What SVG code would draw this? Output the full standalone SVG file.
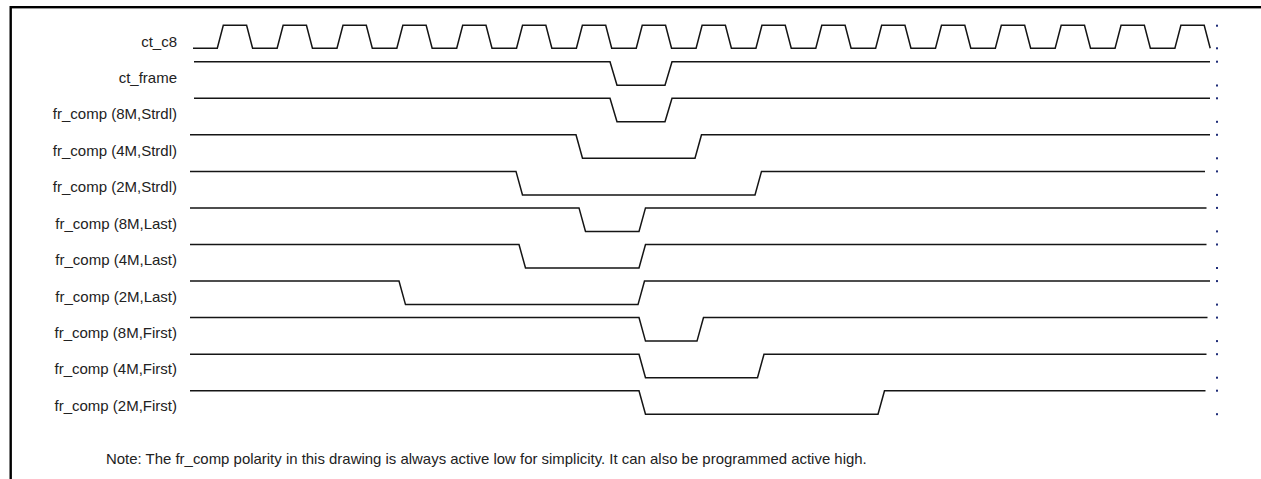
<svg xmlns="http://www.w3.org/2000/svg" width="1261" height="479" viewBox="0 0 1261 479">
<style>
.lbl{font-family:"Liberation Sans",Arial,sans-serif;font-size:15px;fill:#222;text-anchor:end}
.note{font-family:"Liberation Sans",Arial,sans-serif;font-size:14.95px;fill:#222}
.wave{fill:none;stroke:#151515;stroke-width:1.5;stroke-linejoin:miter}
.dot{fill:#1f2d78}
</style>
<rect x="0" y="0" width="1261" height="479" fill="#fff"/>
<rect id="frame" x="10.7" y="7.2" width="1300" height="520" fill="none" stroke="#000" stroke-width="2.4"/>
<g id="labels">
<text id="lbl-ct_c8" class="lbl" x="177" y="46.5">ct_c8</text>
<text id="lbl-ct_frame" class="lbl" x="177" y="82.5">ct_frame</text>
<text id="lbl-8m-strdl" class="lbl" x="177" y="119">fr_comp (8M,Strdl)</text>
<text id="lbl-4m-strdl" class="lbl" x="177" y="155.5">fr_comp (4M,Strdl)</text>
<text id="lbl-2m-strdl" class="lbl" x="177" y="192">fr_comp (2M,Strdl)</text>
<text id="lbl-8m-last" class="lbl" x="177" y="228.5">fr_comp (8M,Last)</text>
<text id="lbl-4m-last" class="lbl" x="177" y="265">fr_comp (4M,Last)</text>
<text id="lbl-2m-last" class="lbl" x="177" y="301.5">fr_comp (2M,Last)</text>
<text id="lbl-8m-first" class="lbl" x="177" y="337.5">fr_comp (8M,First)</text>
<text id="lbl-4m-first" class="lbl" x="177" y="374">fr_comp (4M,First)</text>
<text id="lbl-2m-first" class="lbl" x="177" y="410.5">fr_comp (2M,First)</text>
</g>
<g id="waves">
<path id="wave-ct_c8" class="wave" d="M193 48.3 H217.3 l6 -23 h23.3 l6 23 h24.55 l6 -23 h23.3 l6 23 h24.55 l6 -23 h23.3 l6 23 h24.55 l6 -23 h23.3 l6 23 h24.55 l6 -23 h23.3 l6 23 h24.55 l6 -23 h23.3 l6 23 h24.55 l6 -23 h23.3 l6 23 h24.55 l6 -23 h23.3 l6 23 h24.55 l6 -23 h23.3 l6 23 h24.55 l6 -23 h23.3 l6 23 h24.55 l6 -23 h23.3 l6 23 h24.55 l6 -23 h23.3 l6 23 h24.55 l6 -23 h23.3 l6 23 h24.55 l6 -23 h23.3 l6 23 h24.55 l6 -23 h23.3 l6 23 h24.55 l6 -23 h23.3 l6 23 h24.55 l6 -23 h23.3 l6 23"/>
<path id="wave-ct_frame" class="wave" d="M194 61.7 H610 L617 85.2 H665 L672 61.7 H1210"/>
<path id="wave-8m-strdl" class="wave" d="M194 98.3 H610 L617 121.8 H665 L672 98.3 H1210"/>
<path id="wave-4m-strdl" class="wave" d="M190 134.8 H576 L582.5 158.3 H695 L701.5 134.8 H1210"/>
<path id="wave-2m-strdl" class="wave" d="M190 171.4 H516 L522.5 194.9 H755 L761.5 171.4 H1205"/>
<path id="wave-8m-last" class="wave" d="M190 207.9 H579 L585.5 231.4 H639 L645.5 207.9 H1206.5"/>
<path id="wave-4m-last" class="wave" d="M190 244.5 H519 L525.5 268 H639 L645.5 244.5 H1206.5"/>
<path id="wave-2m-last" class="wave" d="M190 281.1 H399 L405.5 304.6 H638 L644.5 281.1 H1210"/>
<path id="wave-8m-first" class="wave" d="M190 317.6 H639 L645.5 341.1 H697 L703.5 317.6 H1207.5"/>
<path id="wave-4m-first" class="wave" d="M190 354.2 H639 L645.5 377.7 H757.5 L764 354.2 H1206.5"/>
<path id="wave-2m-first" class="wave" d="M190 390.7 H639 L645.5 414.2 H878 L884.5 390.7 H1205.5"/>
</g>
<g id="dots">
<rect class="dot" x="1216" y="24.7" width="2" height="2"/>
<rect class="dot" x="1216" y="47.3" width="2" height="2"/>
<rect class="dot" x="1216" y="60.7" width="2" height="2"/>
<rect class="dot" x="1216" y="84.5" width="2" height="2"/>
<rect class="dot" x="1216" y="97.3" width="2" height="2"/>
<rect class="dot" x="1216" y="120.8" width="2" height="2"/>
<rect class="dot" x="1216" y="133.8" width="2" height="2"/>
<rect class="dot" x="1216" y="157.3" width="2" height="2"/>
<rect class="dot" x="1216" y="170.4" width="2" height="2"/>
<rect class="dot" x="1216" y="193.9" width="2" height="2"/>
<rect class="dot" x="1216" y="206.9" width="2" height="2"/>
<rect class="dot" x="1216" y="230.4" width="2" height="2"/>
<rect class="dot" x="1216" y="243.5" width="2" height="2"/>
<rect class="dot" x="1216" y="267" width="2" height="2"/>
<rect class="dot" x="1216" y="280.1" width="2" height="2"/>
<rect class="dot" x="1216" y="303.6" width="2" height="2"/>
<rect class="dot" x="1216" y="316.6" width="2" height="2"/>
<rect class="dot" x="1216" y="340.1" width="2" height="2"/>
<rect class="dot" x="1216" y="353.2" width="2" height="2"/>
<rect class="dot" x="1216" y="376.7" width="2" height="2"/>
<rect class="dot" x="1216" y="389.7" width="2" height="2"/>
<rect class="dot" x="1216" y="413.2" width="2" height="2"/>
</g>
<text id="note" class="note" x="106" y="464">Note: The fr_comp polarity in this drawing is always active low for simplicity. It can also be programmed active high.</text>
</svg>
